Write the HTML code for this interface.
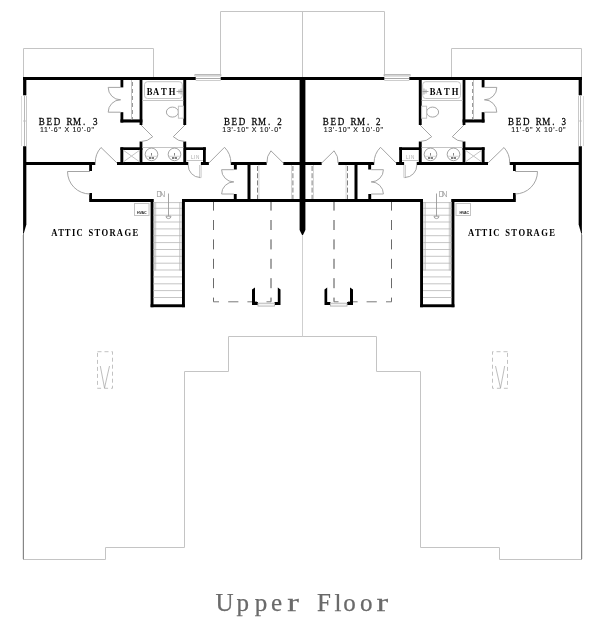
<!DOCTYPE html>
<html><head><meta charset="utf-8">
<style>
html,body{margin:0;padding:0;background:#fff;}
body{width:600px;height:619px;overflow:hidden;font-family:"Liberation Sans",sans-serif;}
svg{display:block;will-change:transform;}
.w{fill:#000;}
.t{fill:none;stroke:#c4c4c4;stroke-width:1;}
.d{fill:none;stroke:#9a9a9a;stroke-width:0.9;}
.dk{fill:none;stroke:#555;stroke-width:1;}
.dash{fill:none;stroke:#6a6a6a;stroke-width:1;stroke-dasharray:10 9.4;}
.rm{font-family:"Liberation Serif",serif;font-size:11px;fill:#000;stroke:#000;stroke-width:0.25;}
.rmb{font-family:"Liberation Serif",serif;font-size:11px;font-weight:bold;fill:#000;}
.dim{font-family:"Liberation Sans",sans-serif;font-size:7px;fill:#111;stroke:#111;stroke-width:0.12;}
.sm{font-family:"Liberation Sans",sans-serif;fill:#ababab;}
</style></head>
<body>
<svg width="600" height="619" viewBox="0 0 600 619">
<defs>
<g id="half">
<!-- roof / outline thin lines -->
<path class="t" d="M23.5 77V48.5H153.5V77"/>
<path class="t" d="M220.5 77V11.5H303"/>
<path class="t" d="M303 336.5H228.5V371.5H184.5V547.5H105.5V559.5H23.5"/>
<path d="M23.5 232V559.5" fill="none" stroke="#868686" stroke-width="1"/><path d="M22.5 235V559" fill="none" stroke="#e6e6e6" stroke-width="1"/>
<!-- window left wall -->
<path d="M21.5 96V146" fill="none" stroke="#dadada" stroke-width="1"/><path d="M24.5 96V146" fill="none" stroke="#b8b8b8" stroke-width="1"/><path d="M26.5 96V146" fill="none" stroke="#c8c8c8" stroke-width="1"/><path d="M23 121H26" stroke="#bbb" stroke-width="0.8"/>
<!-- top window -->
<path d="M195.7 78.5H220.7" fill="none" stroke="#aaa" stroke-width="1"/>
<path d="M195.7 80.5H220.7" fill="none" stroke="#cdcdcd" stroke-width="1"/>
<path d="M194.5 76.5H221.3" fill="none" stroke="#e0e0e0" stroke-width="1"/>
<path d="M194.5 74.5H221.3" fill="none" stroke="#b8b8b8" stroke-width="1"/>
<path d="M194.5 75.5H221.3" fill="none" stroke="#aaa" stroke-width="1" stroke-dasharray="1 1"/>
<!-- dashed garage-below outline -->
<path class="dash" d="M213.5 200.6V301.8"/>
<path class="dash" d="M271 200.6V301.8" style="stroke:#4c4c4c"/>
<path d="M213.4 301.8H271" fill="none" stroke="#7a7a7a" stroke-width="1" stroke-dasharray="5.6 9.2 10.2 9 9.6 9.5 5 100"/>
<!-- walls -->
<rect class="w" x="23" y="77" width="172.7" height="3"/>
<rect class="w" x="220.7" y="77" width="83" height="3"/>
<rect class="w" x="23.1" y="77" width="3.25" height="18.3"/>
<path class="w" d="M23.1 146.2H26.35V224.5L23.9 233H23.1Z"/>
<rect class="w" x="120.5" y="80" width="2.8" height="7.4"/>
<rect class="w" x="120.5" y="112.2" width="2.8" height="10.3"/>
<rect class="w" x="120.5" y="119.4" width="21.9" height="3.1"/>
<rect class="w" x="139.6" y="80" width="2.8" height="45"/>
<rect class="w" x="139.6" y="141.5" width="2.8" height="23.5"/>
<rect class="w" x="183.3" y="80" width="2.9" height="45"/>
<rect class="w" x="183.3" y="141.5" width="2.9" height="23.5"/>
<rect class="w" x="120.4" y="147.3" width="2.9" height="17.7"/>
<rect class="w" x="120.4" y="147.3" width="22" height="2.7"/>
<rect class="w" x="26" y="162" width="69.3" height="3"/>
<rect class="w" x="117" y="162" width="71.3" height="3"/>
<rect class="w" x="200.9" y="162" width="8" height="3"/>
<rect class="w" x="230.8" y="162" width="35.9" height="3"/>
<rect class="w" x="283.3" y="162" width="20" height="3"/>
<rect class="w" x="186" y="147.3" width="19.8" height="2.7"/>
<rect class="w" x="203" y="147.3" width="2.8" height="17.7"/>
<rect class="w" x="89.2" y="165" width="2.8" height="6"/>
<rect class="w" x="89.2" y="193" width="2.8" height="6.5"/>
<rect class="w" x="89.2" y="199" width="64.3" height="3"/>
<rect class="w" x="182" y="199" width="121" height="3"/>
<rect class="w" x="150.6" y="199" width="2.9" height="108.2"/>
<rect class="w" x="182" y="199" width="2.9" height="108.2"/>
<rect class="w" x="150.6" y="304.3" width="34.3" height="2.9"/>
<rect class="w" x="233.9" y="165" width="2.9" height="4.5"/>
<rect class="w" x="233.8" y="194" width="2.9" height="5"/>
<rect class="w" x="247.5" y="165" width="3" height="34"/>
<!-- dormer -->
<path class="w" d="M252 289.5L255 287.5V302H258V305H252Z"/>
<path class="w" d="M280.5 289.5L277.8 287.5V302H274.5V305H280.5Z"/>
<rect x="258" y="303.2" width="16.5" height="2.9" fill="#f4f4f4" stroke="#b4b4b4" stroke-width="0.9"/>
<!-- closet shelf dashed -->
<path class="t" d="M131.5 80V119.4"/>
<path d="M132.5 82V119" fill="none" stroke="#999" stroke-width="1" stroke-dasharray="4 3"/>
<path d="M257.5 166V199M292.9 166V199" fill="none" stroke="#808080" stroke-width="1" stroke-dasharray="5 2.2"/><path d="M258.9 165V199M291.5 165V199" fill="none" stroke="#d0d0d0" stroke-width="0.9"/>
<!-- doors -->
<path class="d" d="M120.6 87.4H108.2A12.4 12.4 0 0 0 120.6 99.8A12.4 12.4 0 0 0 108.2 112.2H120.6"/>
<path class="d" d="M233.8 169.7H221.6A12.2 12.2 0 0 0 233.8 181.9A12.2 12.2 0 0 0 221.6 194H233.8"/>
<path class="d" d="M141 125L152.7 136.7A16.5 16.5 0 0 1 141 141.5"/>
<path class="d" d="M185 125L173.3 136.7A16.5 16.5 0 0 0 185 141.5"/>
<path class="d" d="M117 163L101 147.5A22.3 22.3 0 0 0 95.3 163"/>
<path class="d" d="M208.9 163L224.5 147.3A22.1 22.1 0 0 1 230.9 163"/>
<path class="d" d="M283.3 163L270.9 150.8A17.4 17.4 0 0 0 266.9 163"/>
<path class="d" d="M90 171.5H67.5A22.5 22.5 0 0 0 90 194"/>
<path d="M199.6 165V177.6H201.1V165" fill="none" stroke="#bdbdbd" stroke-width="0.8"/><path class="d" d="M200 177.5A12.2 12.2 0 0 1 188.2 165"/><path class="t" d="M186.2 160.5H203"/>
<!-- bath fixtures -->
<rect class="t" x="144.5" y="81.7" width="37.8" height="16.8" rx="3" ry="3"/>
<path class="t" d="M142.4 100.5H183.3"/>
<path class="d" d="M176.5 91.5H182.5M179 89.5V93.5M181 88.5V94.5"/>
<ellipse class="d" cx="172.4" cy="112.1" rx="6" ry="5"/>
<rect class="t" x="178.4" y="106.2" width="5" height="12"/>
<path class="t" d="M142.4 147.5H183.3"/>
<circle class="d" cx="151.5" cy="154.4" r="6.3"/><path d="M145.5 156.3H157.5" fill="none" stroke="#c0c0c0" stroke-width="0.7"/><path d="M151.5 153V155.6" fill="none" stroke="#666" stroke-width="0.8"/><path d="M149.0 157.9H154.0" fill="none" stroke="#555" stroke-width="1.5" stroke-dasharray="2.2 0.6"/>
<circle class="d" cx="174.5" cy="154.4" r="6.3"/><path d="M168.5 156.3H180.5" fill="none" stroke="#c0c0c0" stroke-width="0.7"/><path d="M174.5 153V155.6" fill="none" stroke="#666" stroke-width="0.8"/><path d="M172.0 157.9H177.0" fill="none" stroke="#555" stroke-width="1.5" stroke-dasharray="2.2 0.6"/>
<path class="t" d="M123.5 150.3L139.5 161.8M139.5 150.3L123.5 161.8"/>
<!-- stairs -->
<path d="M153.4 202.6H182M153.4 208.3H182M153.4 215.2H182M153.4 222.0H182M153.4 228.9H182M153.4 235.7H182M153.4 242.6H182M153.4 249.5H182M153.4 256.3H182M153.4 263.2H182M153.4 270.0H182M153.4 276.9H182M153.4 283.8H182M153.4 290.6H182M153.4 297.5H182" fill="none" stroke="#b6b6b6" stroke-width="0.8"/>
<path d="M154.3 202V270.5M155.7 202V270.5M179.7 202V270.5M181.2 202V270.5" fill="none" stroke="#b4b4b4" stroke-width="0.7"/>
<path class="d" d="M168.5 193.5V216M166 216.2A2.5 2.4 0 0 0 171 216.2Z"/>
<rect class="t" x="134.5" y="203.5" width="14.5" height="12" stroke="#aaa"/>
<!-- skylight -->
<rect x="97.5" y="351.7" width="15" height="36.6" fill="none" stroke="#a8a8a8" stroke-width="0.7" stroke-dasharray="4 3"/>
<path d="M100.3 366L104.5 388L109.5 366" fill="none" stroke="#a0a0a0" stroke-width="0.7"/>
</g>
</defs>
<use href="#half"/>
<use href="#half" transform="translate(605,0) scale(-1,1)"/>
<!-- center wall -->
<path class="w" d="M299.6 77H305.4V230L302.7 235.5H302.3L299.6 230Z"/>
<path class="t" d="M302.5 11.5V77"/><path d="M302.5 235V336.5" fill="none" stroke="#cfcfcf" stroke-width="1"/>
<!-- text -->
<text class="rm" transform="scale(0.82,1)" y="124.7" x="47.32 56.59 65.49 80.98 89.02 101.22 113.30">BEDRM.3</text>
<text class="rm" transform="scale(0.82,1)" y="124.7" x="273.05 282.32 291.22 306.71 314.76 326.95 338.05">BEDRM.2</text>
<text class="rm" transform="scale(0.82,1)" y="124.7" x="393.66 402.93 411.83 427.32 435.37 447.56 458.66">BEDRM.2</text>
<text class="rm" transform="scale(0.82,1)" y="124.7" x="619.63 628.90 637.80 653.29 661.34 673.54 684.63">BEDRM.3</text>
<text class="dim" x="40" y="132" textLength="54">11'-6" X 10'-0"</text>
<text class="dim" x="222.3" y="132" textLength="59">13'-10" X 10'-0"</text>
<text class="dim" x="323.7" y="132" textLength="59.3">13'-10" X 10'-0"</text>
<text class="dim" x="511.3" y="132" textLength="54.3">11'-6" X 10'-0"</text>
<text class="rmb" transform="scale(0.78,1)" y="94.7" x="188.21 196.28 206.41 216.41">BATH</text>
<text class="rmb" transform="scale(0.78,1)" y="94.7" x="550.90 558.97 569.10 579.10">BATH</text>
<text class="rmb" transform="scale(0.78,1)" y="235.7" x="65.64 74.62 82.95 92.31 98.08 113.33 121.03 130.26 140.51 149.74 159.62 169.87">ATTICSTORAGE</text>
<text class="rmb" transform="scale(0.78,1)" y="235.7" x="600.00 608.97 617.31 626.67 632.44 647.69 655.38 664.62 674.87 684.10 693.97 704.23">ATTICSTORAGE</text>
<text class="sm" x="156.2" y="197.3" font-size="8.6" textLength="9.2">DN</text>
<text class="sm" x="438.4" y="197.3" font-size="8.6" textLength="9.2">DN</text>
<text class="sm" x="190.9" y="158.9" font-size="4.6" textLength="8.4">LIN</text>
<text class="sm" x="405.9" y="158.9" font-size="4.6" textLength="8.4">LIN</text>
<text x="137" y="213.8" font-family="Liberation Sans" font-size="3.6" font-weight="bold" fill="#222" textLength="9.5">HVAC</text>
<text x="459.5" y="213.8" font-family="Liberation Sans" font-size="3.6" font-weight="bold" fill="#222" textLength="9.5">HVAC</text>
<text y="610.7" font-family="Liberation Serif" font-size="25" fill="#6a6a6a" stroke="#6a6a6a" stroke-width="0.25" x="215.5 236.5 254.8 271 317 334.5 343.3 360">UppeFloo</text><text y="610.7" font-family="Liberation Serif" font-size="25" fill="#6a6a6a" stroke="#6a6a6a" stroke-width="0.25" transform="scale(1.4,1)" x="205.14 269.00">rr</text>
</svg>
</body></html>
